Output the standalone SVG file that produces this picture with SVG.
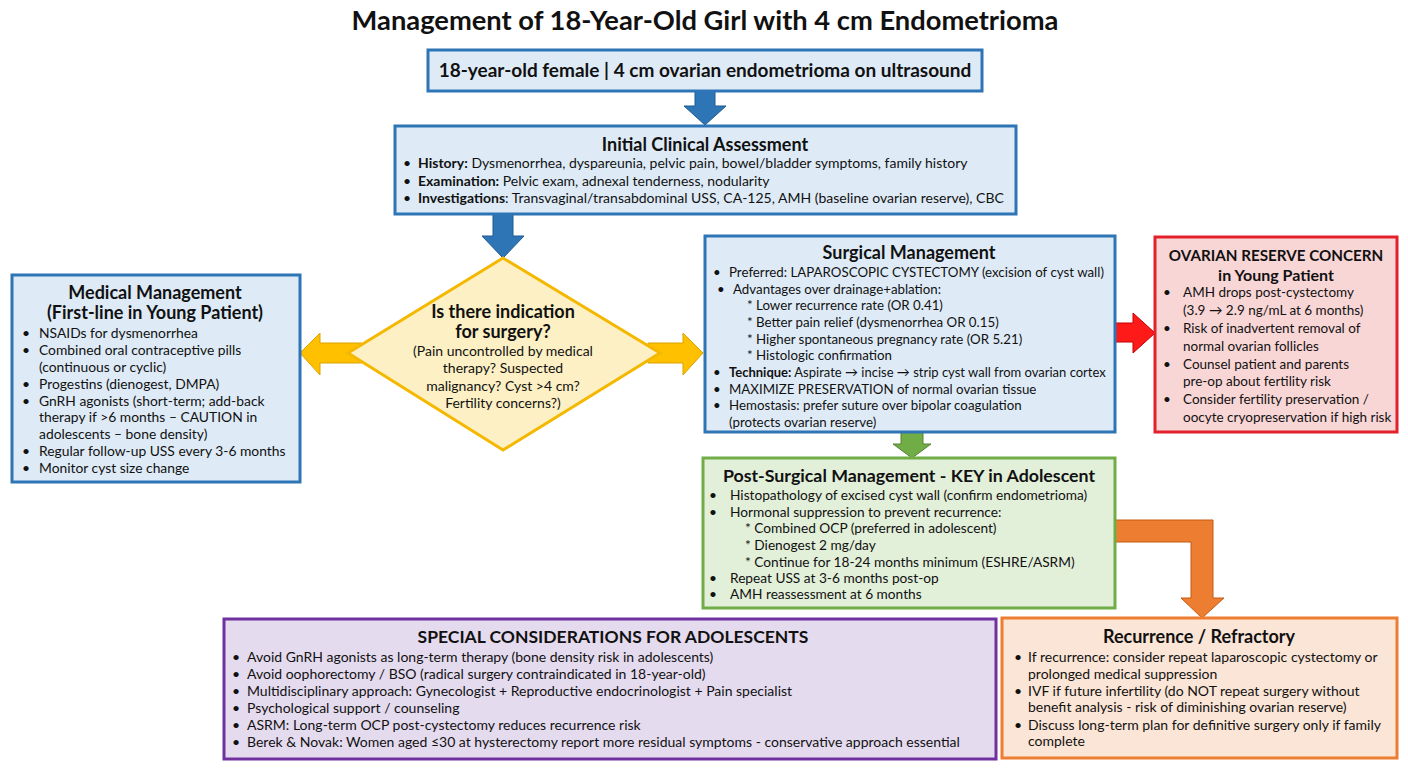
<svg xmlns="http://www.w3.org/2000/svg" width="1408" height="768" viewBox="0 0 1408 768">
<style>
text{font-family:Lato,'Liberation Sans',sans-serif;fill:#111;}
.title{font-size:27.3px;font-weight:bold;}
.h{font-size:18px;font-weight:bold;text-anchor:middle;}
.b{font-size:14px;}
.s{font-size:14px;}
.c{text-anchor:middle;}
.bold{font-weight:bold;}
.blue{fill:#deebf7;stroke:#2e75b6;stroke-width:3;}
.yel{fill:#fdf0c4;stroke:#f5b800;stroke-width:3;}
.red{fill:#f9d6d6;stroke:#e3212b;stroke-width:3;}
.grn{fill:#e2efd9;stroke:#70ad47;stroke-width:3;}
.pur{fill:#e5dbef;stroke:#7030a0;stroke-width:3;}
.org{fill:#fbe5d6;stroke:#ed7d31;stroke-width:3;}
.ab{fill:#2e75b6;stroke:#1f5a94;stroke-width:1;}
.ay{fill:#ffc000;stroke:#d9a300;stroke-width:1;}
.ar{fill:#ff1a1a;stroke:#c00000;stroke-width:1;}
.ag{fill:#70ad47;stroke:#548235;stroke-width:1;}
.ao{fill:#ed7d31;stroke:#c55a11;stroke-width:1;}
</style>
<rect width="1408" height="768" fill="#ffffff"/>
<text class="title" x="705" y="30" text-anchor="middle">Management of 18-Year-Old Girl with 4 cm Endometrioma</text>

<g id="connectors">
<polygon class="ab" points="695,91 715,91 715,106 726,106 705,125 684,106 695,106"/>
<polygon class="ab" points="493,214 513,214 513,236 524,236 503,258 482,236 493,236"/>
<polygon class="ay" points="362,343 320,343 320,333 300,353 320,375 320,363 362,363"/>
<polygon class="ay" points="648,343 683,343 683,333 703,353 683,375 683,363 648,363"/>
<polygon class="ar" points="1115,323 1133,323 1133,313 1155,333 1133,353 1133,342 1115,342"/>
<polygon class="ag" points="901,432 923,432 923,444 931,444 912,458 893,444 901,444"/>
<polygon class="ao" points="1114,520 1213,520 1213,598 1224,598 1202,618 1181,598 1191,598 1191,542 1114,542"/>
</g>

<g id="start">
<rect class="blue" x="428" y="50" width="554" height="41"/>
<text class="h" x="705" y="77" style="font-size:19px">18-year-old female | 4 cm ovarian endometrioma on ultrasound</text>
</g>

<g id="initial">
<rect class="blue" x="395" y="126" width="621" height="88"/>
<text class="h" x="705" y="151">Initial Clinical Assessment</text>
<g style="font-size:14px">
<text x="403" y="168">•</text><text x="418" y="168"><tspan class="bold">History:</tspan> Dysmenorrhea, dyspareunia, pelvic pain, bowel/bladder symptoms, family history</text>
<text x="403" y="186">•</text><text x="418" y="186"><tspan class="bold">Examination:</tspan> Pelvic exam, adnexal tenderness, nodularity</text>
<text x="403" y="203">•</text><text x="418" y="203"><tspan class="bold">Investigations</tspan>: Transvaginal/transabdominal USS, CA-125, AMH (baseline ovarian reserve), CBC</text>
</g>
</g>

<g id="decision">
<polygon class="yel" points="503,258 660,353 503,450 348,353"/>
<text class="h" x="503" y="318">Is there indication</text>
<text class="h" x="503" y="338">for surgery?</text>
<text class="s c" x="503" y="356">(Pain uncontrolled by medical</text>
<text class="s c" x="503" y="373">therapy? Suspected</text>
<text class="s c" x="503" y="391">malignancy? Cyst &gt;4 cm?</text>
<text class="s c" x="503" y="408">Fertility concerns?)</text>
</g>

<g id="medical">
<rect class="blue" x="12" y="275" width="288" height="207"/>
<text class="h" x="155" y="299">Medical Management</text>
<text class="h" x="155" y="319">(First-line in Young Patient)</text>
<g style="font-size:13.85px">
<text x="22" y="338">•</text><text x="39" y="338">NSAIDs for dysmenorrhea</text>
<text x="22" y="355">•</text><text x="39" y="355">Combined oral contraceptive pills</text>
<text x="39" y="372">(continuous or cyclic)</text>
<text x="22" y="389">•</text><text x="39" y="389">Progestins (dienogest, DMPA)</text>
<text x="22" y="406">•</text><text x="39" y="406">GnRH agonists (short-term; add-back</text>
<text x="39" y="422">therapy if &gt;6 months – CAUTION in</text>
<text x="39" y="439">adolescents – bone density)</text>
<text x="22" y="456">•</text><text x="39" y="456">Regular follow-up USS every 3-6 months</text>
<text x="22" y="473">•</text><text x="39" y="473">Monitor cyst size change</text>
</g>
</g>

<g id="surgical">
<rect class="blue" x="705" y="236" width="410" height="196"/>
<text class="h" x="909" y="259">Surgical Management</text>
<g style="font-size:13.3px">
<text x="713" y="277">•</text><text x="729" y="277">Preferred: LAPAROSCOPIC CYSTECTOMY (excision of cyst wall)</text>
<text x="717" y="294">•</text><text x="733" y="294">Advantages over drainage+ablation:</text>
<text x="747" y="310">* Lower recurrence rate (OR 0.41)</text>
<text x="747" y="327">* Better pain relief (dysmenorrhea OR 0.15)</text>
<text x="747" y="344">* Higher spontaneous pregnancy rate (OR 5.21)</text>
<text x="747" y="360">* Histologic confirmation</text>
<text x="713" y="377">•</text><text x="729" y="377" style="font-size:13px"><tspan class="bold">Technique:</tspan> Aspirate → incise → strip cyst wall from ovarian cortex</text>
<text x="713" y="394">•</text><text x="729" y="394">MAXIMIZE PRESERVATION of normal ovarian tissue</text>
<text x="713" y="410">•</text><text x="729" y="410">Hemostasis: prefer suture over bipolar coagulation</text>
<text x="729" y="427">(protects ovarian reserve)</text>
</g>
</g>

<g id="ovarian">
<rect class="red" x="1155" y="237" width="242" height="195"/>
<text class="h" x="1276" y="261" style="font-size:15.2px">OVARIAN RESERVE CONCERN</text>
<text class="h" x="1276" y="281" style="font-size:16px">in Young Patient</text>
<g style="font-size:13.5px">
<text x="1163" y="297">•</text><text x="1183" y="297">AMH drops post-cystectomy</text>
<text x="1183" y="315">(3.9 → 2.9 ng/mL at 6 months)</text>
<text x="1163" y="333">•</text><text x="1183" y="333">Risk of inadvertent removal of</text>
<text x="1183" y="351">normal ovarian follicles</text>
<text x="1163" y="369">•</text><text x="1183" y="369">Counsel patient and parents</text>
<text x="1183" y="386">pre-op about fertility risk</text>
<text x="1163" y="404">•</text><text x="1183" y="404">Consider fertility preservation /</text>
<text x="1183" y="422">oocyte cryopreservation if high risk</text>
</g>
</g>

<g id="postsurgical">
<rect class="grn" x="703" y="458" width="412" height="150"/>
<text class="h" x="909" y="482" style="font-size:17.8px">Post-Surgical Management - KEY in Adolescent</text>
<g style="font-size:13.7px">
<text x="709" y="500">•</text><text x="730" y="500">Histopathology of excised cyst wall (confirm endometrioma)</text>
<text x="709" y="517">•</text><text x="730" y="517">Hormonal suppression to prevent recurrence:</text>
<text x="745" y="533">* Combined OCP (preferred in adolescent)</text>
<text x="745" y="550">* Dienogest 2 mg/day</text>
<text x="745" y="567">* Continue for 18-24 months minimum (ESHRE/ASRM)</text>
<text x="709" y="583">•</text><text x="730" y="583">Repeat USS at 3-6 months post-op</text>
<text x="709" y="599">•</text><text x="730" y="599">AMH reassessment at 6 months</text>
</g>
</g>

<g id="special">
<rect class="pur" x="224" y="619" width="772" height="140"/>
<text class="h" x="613" y="643" style="font-size:17.5px">SPECIAL CONSIDERATIONS FOR ADOLESCENTS</text>
<g class="b">
<text x="232" y="662">•</text><text x="247" y="662">Avoid GnRH agonists as long-term therapy (bone density risk in adolescents)</text>
<text x="232" y="679">•</text><text x="247" y="679">Avoid oophorectomy / BSO (radical surgery contraindicated in 18-year-old)</text>
<text x="232" y="696">•</text><text x="247" y="696">Multidisciplinary approach: Gynecologist + Reproductive endocrinologist + Pain specialist</text>
<text x="232" y="713">•</text><text x="247" y="713">Psychological support / counseling</text>
<text x="232" y="730">•</text><text x="247" y="730">ASRM: Long-term OCP post-cystectomy reduces recurrence risk</text>
<text x="232" y="747">•</text><text x="247" y="747">Berek &amp; Novak: Women aged ≤30 at hysterectomy report more residual symptoms - conservative approach essential</text>
</g>
</g>

<g id="recurrence">
<rect class="org" x="1002" y="618" width="395" height="140"/>
<text class="h" x="1199" y="643">Recurrence / Refractory</text>
<g class="b">
<text x="1014" y="662">•</text><text x="1028" y="662">If recurrence: consider repeat laparoscopic cystectomy or</text>
<text x="1028" y="679">prolonged medical suppression</text>
<text x="1014" y="696">•</text><text x="1028" y="696">IVF if future infertility (do NOT repeat surgery without</text>
<text x="1028" y="712">benefit analysis - risk of diminishing ovarian reserve)</text>
<text x="1014" y="730">•</text><text x="1028" y="730">Discuss long-term plan for definitive surgery only if family</text>
<text x="1028" y="746">complete</text>
</g>
</g>
</svg>
